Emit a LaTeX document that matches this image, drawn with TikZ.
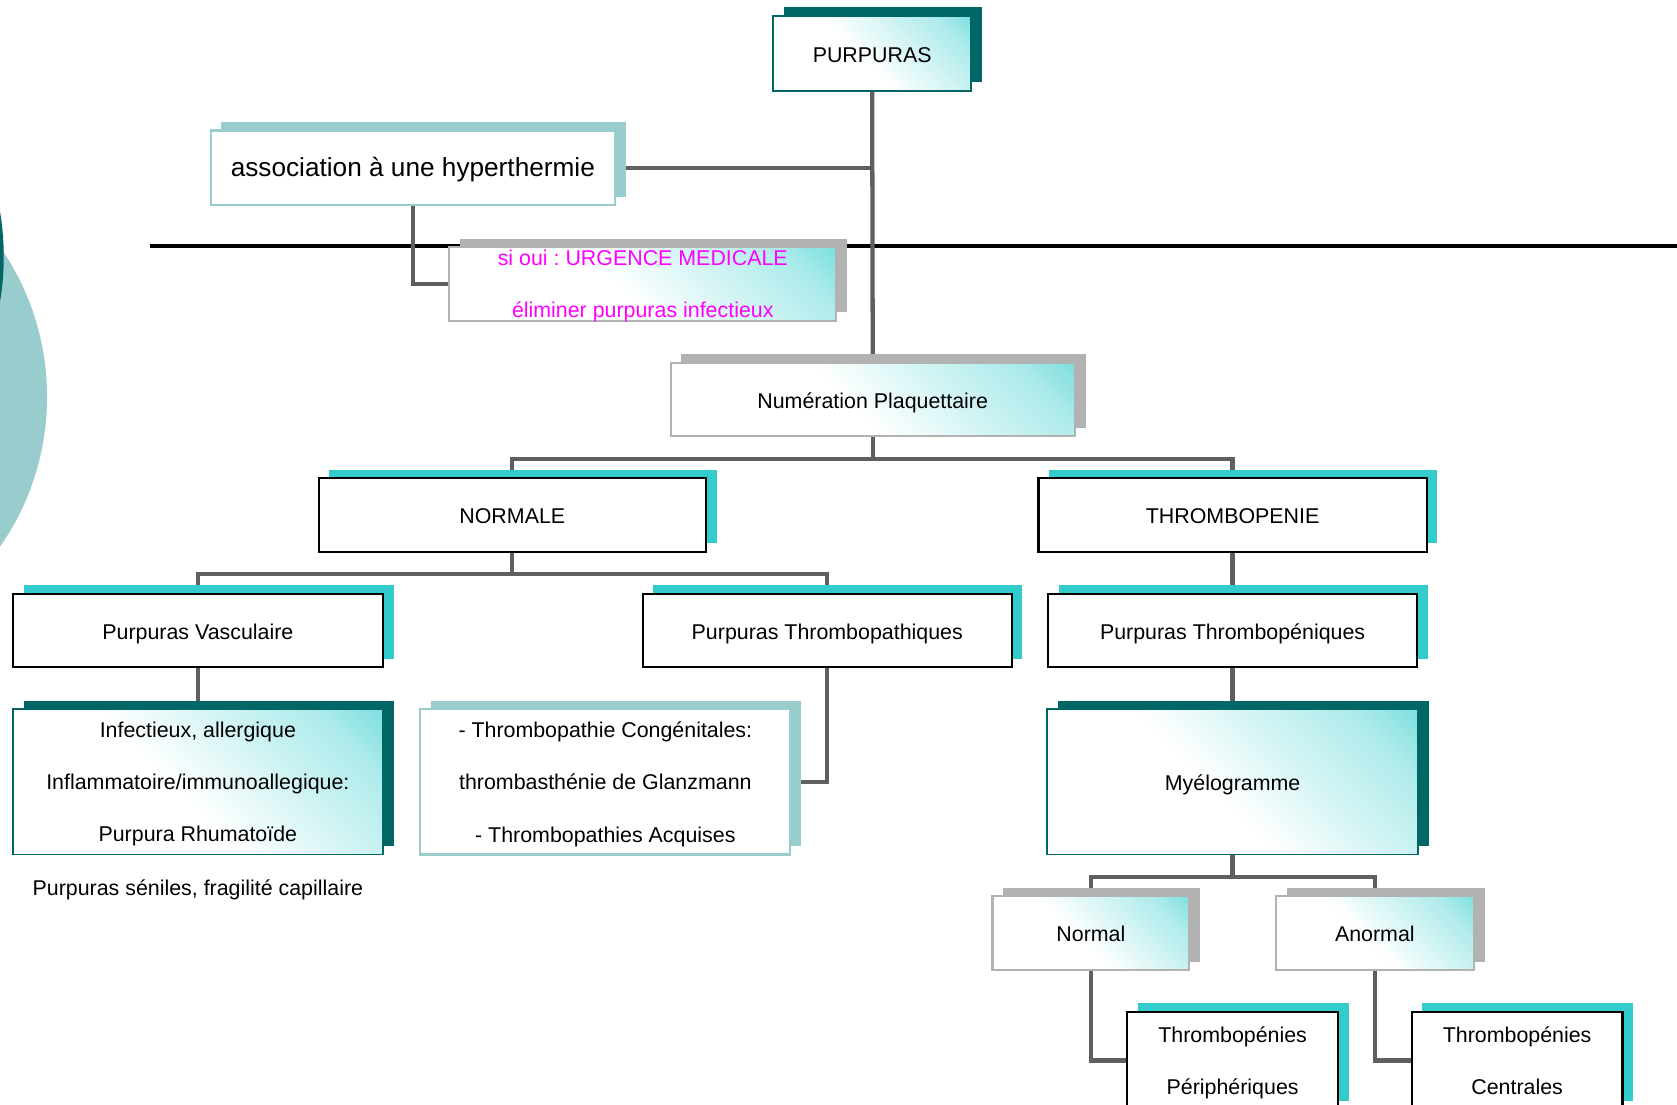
\documentclass[tikz,border=0pt]{standalone}
\usepackage{fontspec}
\setmainfont{Liberation Sans}
\definecolor{darkteal}{RGB}{0,102,102}
\definecolor{brightteal}{RGB}{51,204,204}
\definecolor{paleteal}{RGB}{153,204,204}
\definecolor{shadowgrey}{RGB}{178,178,178}
\definecolor{linkgrey}{RGB}{95,95,95}
\definecolor{alertpink}{RGB}{255,0,255}
\colorlet{glowmid}{brightteal!40!white}
\usetikzlibrary{shadows,backgrounds}
\pgfdeclareverticalshading{boxglow}{100bp}{color(0bp)=(white); color(46bp)=(white); color(76bp)=(glowmid); color(100bp)=(brightteal)}
\frenchspacing

\begin{document}
\begin{tikzpicture}[x=1pt, y=-1pt,
    every node/.style={font=\fontsize{20}{49}\selectfont\frenchspacing, inner sep=0pt, align=center,
        text height=18pt, text depth=1.6pt},
    multiline/.style={text height=, text depth=-1.5pt},
    boxsize/.style 2 args={minimum width=#1pt, minimum height=#2pt},
    glow/.style={shade, shading=boxglow, shading angle=-45},
    darkbox/.style={rectangle, draw=darkteal, line width=1.5pt, glow,
        general shadow={fill=darkteal, shadow xshift=10pt, shadow yshift=8pt}},
    palebox/.style={rectangle, draw=paleteal, line width=2pt, fill=white,
        general shadow={fill=paleteal, shadow xshift=10pt, shadow yshift=8pt}},
    greybox/.style={rectangle, draw=shadowgrey, line width=2pt, glow,
        general shadow={fill=shadowgrey, shadow xshift=10pt, shadow yshift=8pt}},
    plainbox/.style={rectangle, draw=black, line width=2pt, fill=white,
        general shadow={fill=brightteal, shadow xshift=10pt, shadow yshift=8pt}},
    link/.style={draw=linkgrey, line width=4pt}]
    \useasboundingbox (0,0) rectangle (1568,1033);

    \node[darkbox, boxsize={185}{70}] (purp) at (815.5,50) {PURPURAS};
    \node[palebox, boxsize={378}{70}, font=\fontsize{24.5}{30}\selectfont] (assoc) at (386,157) {association à une hyperthermie};
    \node[greybox, boxsize={362}{69}, multiline, text=alertpink] (sioui) at (601,265.5) {si oui : URGENCE MEDICALE\\éliminer purpuras infectieux};
    \node[greybox, boxsize={378}{69}] (numer) at (816,373.5) {Numération Plaquettaire};

    \node[plainbox, boxsize={362}{69}] (normale) at (479,481.5) {NORMALE};
    \node[plainbox, boxsize={363}{69}] (thrombo) at (1152.5,481.5) {THROMBOPENIE};

    \node[plainbox, boxsize={346}{69}] (vasc) at (185,589.5) {Purpuras Vasculaire};
    \node[plainbox, boxsize={345}{69}] (pathiq) at (773.5,589.5) {Purpuras Thrombopathiques};
    \node[plainbox, boxsize={345}{69}] (peniq) at (1152.5,589.5) {Purpuras Thrombopéniques};

    \node[darkbox, boxsize={346}{136}, multiline] (infect) at (185,731) {Infectieux, allergique\\Inflammatoire/immunoallegique:\\Purpura Rhumatoïde};
    \node[palebox, boxsize={346}{136}, multiline] (congen) at (566,731) {- Thrombopathie Congénitales:\\thrombasthénie de Glanzmann\\- Thrombopathies Acquises};
    \node[darkbox, boxsize={347}{136}] (myelo) at (1152.5,731) {Myélogramme};
    \node (senile) at (185,829) {Purpuras séniles, fragilité capillaire};

    \node[greybox, boxsize={184}{69}] (normal) at (1020,872.5) {Normal};
    \node[greybox, boxsize={185}{69}] (anormal) at (1285.5,872.5) {Anormal};
    \node[plainbox, boxsize={197}{91}, multiline] (periph) at (1152.5,991.5) {Thrombopénies\\Périphériques};
    \node[plainbox, boxsize={197}{91}, multiline] (central) at (1418.5,991.5) {Thrombopénies\\Centrales};

    \begin{scope}[on background layer]
        % slide decoration
        \fill[paleteal] (-201,371) circle[radius=245];
        \fill[darkteal] (-250,240) circle[radius=253.5];
        \draw[line width=3pt] (140,230) -- (1568,230);

        \draw[link] (purp.south) -- (numer.north);
        \draw[link] (assoc.east) -- (assoc.east -| purp.south);
        \draw[link] (assoc.south) |- (sioui.west);
        \draw[link] (numer.south) -- ++(0,20) -| (normale.north);
        \draw[link] (numer.south) ++(0,20) -| (thrombo.north);
        \draw[link] (normale.south) -- ++(0,20) -| (vasc.north);
        \draw[link] (normale.south) ++(0,20) -| (pathiq.north);
        \draw[link] (thrombo.south) -- (peniq.north);
        \draw[link] (vasc.south) -- (infect.north);
        \draw[link] (pathiq.south) |- (congen.east);
        \draw[link] (peniq.south) -- (myelo.north);
        \draw[link] (myelo.south) -- ++(0,20) -| (normal.north);
        \draw[link] (myelo.south) ++(0,20) -| (anormal.north);
        \draw[link] (normal.south) |- (periph.west);
        \draw[link] (anormal.south) |- (central.west);
    \end{scope}
\end{tikzpicture}
\end{document}
